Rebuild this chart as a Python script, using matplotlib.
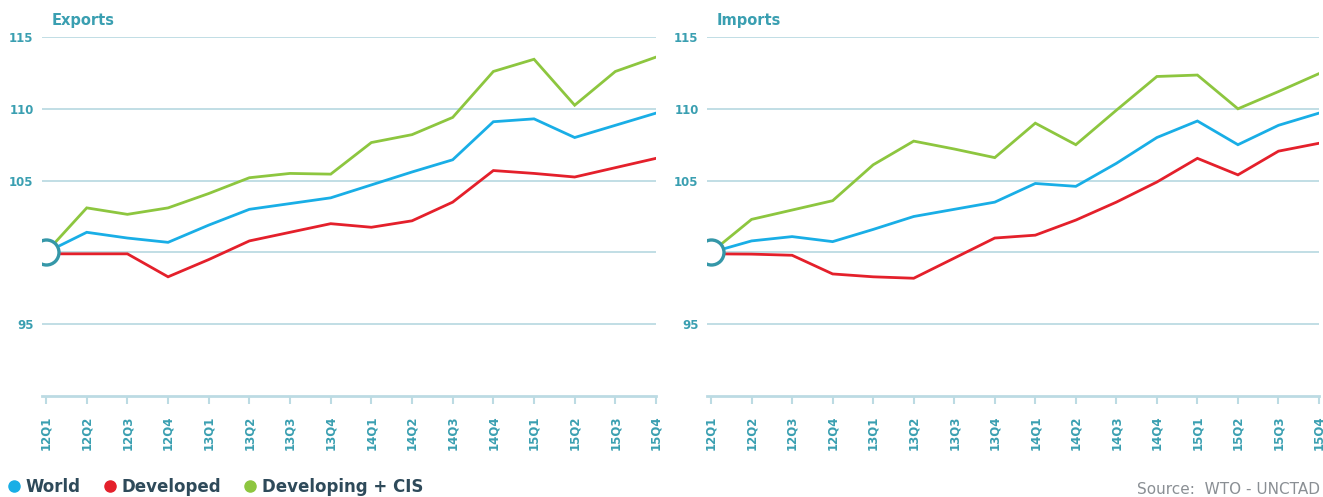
import matplotlib
matplotlib.use('Agg')
import matplotlib.pyplot as plt
from matplotlib.lines import Line2D

quarters = ['12Q1', '12Q2', '12Q3', '12Q4', '13Q1', '13Q2', '13Q3', '13Q4',
            '14Q1', '14Q2', '14Q3', '14Q4', '15Q1', '15Q2', '15Q3', '15Q4']

exp_world = [100, 101.4, 101.0, 100.7, 101.9, 103.0, 103.4, 103.8,
             104.7, 105.6, 106.45, 109.1, 109.3, 108.0, 108.85, 109.7]
exp_developed = [99.9, 99.9, 99.9, 98.3, 99.5, 100.8, 101.4, 102.0,
                 101.75, 102.2, 103.5, 105.7, 105.5, 105.25, 105.9, 106.55]
exp_developing = [100, 103.1, 102.65, 103.1, 104.1, 105.2, 105.5, 105.45,
                  107.65, 108.2, 109.4, 112.6, 113.45, 110.25, 112.6, 113.6]

imp_world = [100, 100.8, 101.1, 100.75, 101.6, 102.5, 103.0, 103.5,
             104.8, 104.6, 106.2, 108.0, 109.15, 107.5, 108.85, 109.7]
imp_developed = [99.9, 99.88, 99.8, 98.5, 98.3, 98.2, 99.6, 101.0,
                 101.2, 102.25, 103.5, 104.9, 106.55, 105.4, 107.05, 107.6]
imp_developing = [100, 102.3, 102.95, 103.6, 106.1, 107.75, 107.2, 106.6,
                  109.0, 107.5, 109.9, 112.25, 112.35, 110.0, 111.2, 112.45]

series_names = ['World', 'Developed', 'Developing + CIS']
colors = ['#19aee6', '#e4202b', '#8dc63f']
TEAL = '#3a9fb1'
GRID = '#bcdbe3'
DARK = '#2e4a5a'

fig = plt.figure(figsize=(13.23, 4.97), dpi=100)
W, H = 1323, 497


def draw_panel(left, right, title, data):
    ax = fig.add_axes([left / W, 1 - 396 / H, (right - left) / W, (396 - 37) / H])
    x = list(range(len(quarters)))
    for vals, c in zip(data, colors):
        ax.plot(x, vals, color=c, lw=2.0, solid_joinstyle='miter', zorder=3)
    ax.plot([0], [100], 'o', ms=18, mfc='white', mec='#3597a8', mew=2.4, zorder=5)
    ax.set_xlim(-0.1, 15)
    ax.set_ylim(90, 115)
    ax.set_yticks([95, 100, 105, 110, 115])
    ax.set_yticklabels(['95', '', '105', '110', '115'])
    ax.yaxis.grid(True, color=GRID, lw=1.3)
    ax.set_axisbelow(True)
    for s in ['top', 'right', 'left']:
        ax.spines[s].set_visible(False)
    ax.spines['bottom'].set_color(GRID)
    ax.spines['bottom'].set_linewidth(2)
    ax.set_xticks(x)
    ax.set_xticklabels(quarters, rotation=90, fontsize=8.5, fontweight='bold', color=TEAL)
    ax.tick_params(axis='x', length=6, width=1.5, color=GRID, pad=8)
    ax.tick_params(axis='y', length=0, pad=6, labelsize=8.5, labelcolor=TEAL)
    for t in ax.get_yticklabels():
        t.set_fontweight('bold')
    fig.text((left + 10) / W, 1 - 21 / H, title, fontsize=10.5, fontweight='bold',
             color=TEAL, va='center', ha='left')
    return ax


draw_panel(42, 656, 'Exports', [exp_world, exp_developed, exp_developing])
draw_panel(707, 1319, 'Imports', [imp_world, imp_developed, imp_developing])

handles = [Line2D([0], [0], marker='o', ls='none', ms=8, mfc=c, mec=c) for c in colors]
leg = fig.legend(handles, series_names, loc='center left', bbox_to_anchor=(7 / W, 1 - 487 / H),
                 ncol=3, frameon=False, handletextpad=0.3, columnspacing=1.35,
                 handlelength=0.8, borderpad=0, borderaxespad=0,
                 prop={'weight': 'bold', 'size': 12})
for t in leg.get_texts():
    t.set_color(DARK)

fig.text(1320 / W, 1 - 490 / H, 'Source:  WTO - UNCTAD', fontsize=11, color='#8a8f94',
         ha='right', va='center')

fig.savefig('out.png', dpi=100)
